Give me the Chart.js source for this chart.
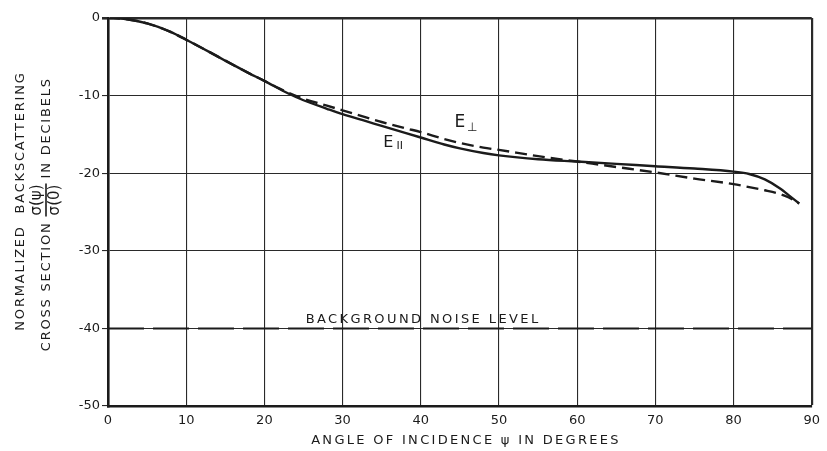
<!DOCTYPE html>
<html>
<head>
<meta charset="utf-8">
<script src="https://cdn.jsdelivr.net/npm/chart.js@4.4.1/dist/chart.umd.min.js"></script>
<style>
  html, body { margin: 0; padding: 0; background: #fff; }
  #wrap { width: 827px; height: 451px; }
</style>
</head>
<body>
<div id="wrap"><canvas id="chart" width="827" height="451"></canvas></div>
<script>
// Data
const angles = [0, 2, 5, 8, 10, 13, 15, 18, 20, 23, 25, 28, 30, 33, 35, 38, 40, 43, 45, 48, 50, 55, 60, 65, 70, 75, 80, 82, 84, 86, 87, 88.4];
const eParallel = [0, -0.1, -0.7, -1.8, -2.8, -4.4, -5.5, -7.1, -8.1, -9.7, -10.6, -11.7, -12.4, -13.3, -13.9, -14.8, -15.4, -16.3, -16.8, -17.4, -17.7, -18.2, -18.5, -18.8, -19.1, -19.4, -19.8, -20.1, -20.8, -22.0, -22.8, -23.9];
const ePerpendicular = [0, -0.1, -0.7, -1.8, -2.8, -4.4, -5.5, -7.1, -8.1, -9.6, -10.4, -11.3, -11.9, -12.8, -13.4, -14.2, -14.7, -15.6, -16.1, -16.7, -17.0, -17.8, -18.5, -19.2, -19.9, -20.7, -21.4, -21.8, -22.2, -22.7, -23.1, -23.9];
const noiseX = [0, 90];
const noiseLevel = -40;
const xTicks = [0, 10, 20, 30, 40, 50, 60, 70, 80, 90];
const yTicks = [0, -10, -20, -30, -40, -50];

const ink = '#1b1b1b';
const font = 'DejaVu Sans';

function toPoints(xs, ys) {
  return xs.map((x, i) => ({ x: x, y: ys[i] }));
}

// Draws the titles (y one has a fraction), curve labels and the noise label
const annotations = {
  id: 'annotations',
  afterDraw(chart) {
    const ctx = chart.ctx;
    const xs = chart.scales.x;
    const ys = chart.scales.y;
    ctx.save();
    ctx.fillStyle = ink;
    ctx.strokeStyle = ink;
    ctx.textBaseline = 'middle';

    // y-axis title, rotated
    ctx.save();
    ctx.translate(21, 201);
    ctx.rotate(-Math.PI / 2);
    ctx.font = '13px "' + font + '"';
    ctx.letterSpacing = '1.8px';
    ctx.textAlign = 'center';
    ctx.fillText('NORMALIZED  BACKSCATTERING', 0, 0);
    ctx.restore();

    ctx.save();
    ctx.translate(46, 200);
    ctx.rotate(-Math.PI / 2);
    ctx.font = '15px "' + font + '"';
    ctx.letterSpacing = '0px';
    const fw = Math.max(ctx.measureText('σ(ψ)').width, ctx.measureText('σ(0)').width);
    ctx.textAlign = 'center';
    ctx.fillText('σ(ψ)', 0, -9);
    ctx.fillText('σ(0)', 0, 9);
    ctx.lineWidth = 1.6;
    ctx.beginPath();
    ctx.moveTo(-fw / 2 - 1, 0);
    ctx.lineTo(fw / 2 + 1, 0);
    ctx.stroke();
    ctx.font = '13px "' + font + '"';
    ctx.letterSpacing = '1.8px';
    ctx.textAlign = 'right';
    ctx.fillText('CROSS SECTION', -fw / 2 - 6, 1);
    ctx.textAlign = 'left';
    ctx.fillText('IN DECIBELS', fw / 2 + 6, 1);
    ctx.restore();

    // x-axis title
    ctx.font = '13px "' + font + '"';
    ctx.letterSpacing = '2.3px';
    ctx.textAlign = 'center';
    ctx.fillText('ANGLE OF INCIDENCE ψ IN DEGREES', 466, 441);

    // curve labels
    ctx.letterSpacing = '0px';
    ctx.textAlign = 'left';
    ctx.textBaseline = 'alphabetic';
    ctx.font = '17px "' + font + '"';
    ctx.fillText('E', xs.getPixelForValue(44.3), ys.getPixelForValue(-14.1));
    ctx.font = '12px "' + font + '"';
    ctx.fillText('⊥', xs.getPixelForValue(45.9), ys.getPixelForValue(-14.5));
    ctx.font = '16px "' + font + '"';
    ctx.fillText('E', xs.getPixelForValue(35.2), ys.getPixelForValue(-16.6));
    ctx.font = '11px "' + font + '"';
    ctx.fillText('II', xs.getPixelForValue(36.9), ys.getPixelForValue(-16.9));

    // noise label
    ctx.font = '13px "' + font + '"';
    ctx.letterSpacing = '2.4px';
    ctx.textAlign = 'center';
    ctx.textBaseline = 'middle';
    ctx.fillText('BACKGROUND NOISE LEVEL', xs.getPixelForValue(40.3), ys.getPixelForValue(noiseLevel + 1.1));
    ctx.restore();
  }
};

new Chart(document.getElementById('chart'), {
  type: 'line',
  data: {
    datasets: [
      {
        label: 'E parallel',
        data: toPoints(angles, eParallel),
        borderColor: ink,
        borderWidth: 2.4,
        pointRadius: 0,
        cubicInterpolationMode: 'monotone'
      },
      {
        label: 'E perpendicular',
        data: toPoints(angles, ePerpendicular),
        borderColor: ink,
        borderWidth: 2.4,
        borderDash: [12, 6],
        pointRadius: 0,
        cubicInterpolationMode: 'monotone'
      },
      {
        label: 'Background noise level',
        data: toPoints(noiseX, noiseX.map(() => noiseLevel)),
        borderColor: ink,
        borderWidth: 2,
        borderDash: [36, 9],
        pointRadius: 0
      }
    ]
  },
  options: {
    responsive: false,
    animation: false,
    layout: { padding: { top: 18, right: 9, left: 0, bottom: 0 } },
    plugins: {
      legend: { display: false },
      tooltip: { enabled: false }
    },
    scales: {
      x: {
        type: 'linear',
        min: 0,
        max: 90,
        afterFit: (scale) => { scale.height = 45; },
        afterBuildTicks: (scale) => { scale.ticks = xTicks.map(v => ({ value: v })); },
        grid: {
          color: '#2a2a2a',
          lineWidth: (c) => (c.tick && c.tick.value === 90 ? 2.2 : 1.1),
          drawTicks: false
        },
        border: { color: ink, width: 2.6 },
        ticks: {
          color: ink,
          padding: 7,
          font: { family: font, size: 13 }
        }
      },
      y: {
        type: 'linear',
        min: -50,
        max: 0,
        afterFit: (scale) => { scale.width = 108; },
        afterBuildTicks: (scale) => { scale.ticks = yTicks.map(v => ({ value: v })); },
        grid: {
          color: '#2a2a2a',
          lineWidth: (c) => (c.tick && c.tick.value === 0 ? 2.6 : 1.1),
          tickLength: 6
        },
        border: { color: ink, width: 2.6 },
        ticks: {
          color: ink,
          padding: 2,
          font: { family: font, size: 13 }
        }
      }
    }
  },
  plugins: [annotations]
});
</script>
</body>
</html>
